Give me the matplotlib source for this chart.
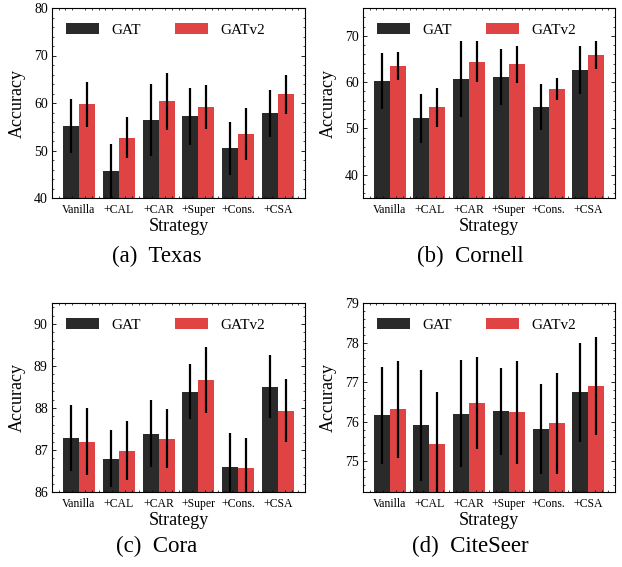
import numpy as np
import matplotlib
matplotlib.use("Agg")
import matplotlib.pyplot as plt
from matplotlib.ticker import AutoMinorLocator, MultipleLocator

plt.rcParams['font.family'] = ['Liberation Serif', 'DejaVu Serif']
plt.rcParams['mathtext.fontset'] = 'stix'

strategies = ["Vanilla", "+CAL", "+CAR", "+Super", "+Cons.", "+CSA"]
models = ["GAT", "GATv2"]

texas_gat = [55.1, 45.6, 56.4, 57.25, 50.5, 57.8]
texas_gat_err = [5.7, 5.7, 7.5, 6.0, 5.6, 4.9]
texas_gatv2 = [59.7, 52.7, 60.4, 59.15, 53.45, 61.8]
texas_gatv2_err = [4.8, 4.3, 6.0, 4.7, 5.5, 4.2]

cornell_gat = [60.25, 52.25, 60.7, 61.1, 54.6, 62.65]
cornell_gat_err = [6.0, 5.3, 8.2, 6.1, 5.0, 5.2]
cornell_gatv2 = [63.5, 54.6, 64.4, 63.9, 58.5, 65.9]
cornell_gatv2_err = [3.1, 4.2, 4.4, 4.0, 2.45, 3.0]

cora_gat = [87.29, 86.79, 87.39, 88.39, 86.60, 88.51]
cora_gat_err = [0.79, 0.68, 0.80, 0.65, 0.80, 0.75]
cora_gatv2 = [87.20, 86.98, 87.27, 88.67, 86.56, 87.94]
cora_gatv2_err = [0.79, 0.70, 0.70, 0.79, 0.72, 0.74]

citeseer_gat = [76.16, 75.91, 76.20, 76.26, 75.81, 76.74]
citeseer_gat_err = [1.22, 1.40, 1.35, 1.10, 1.14, 1.26]
citeseer_gatv2 = [76.31, 75.43, 76.48, 76.24, 75.96, 76.89]
citeseer_gatv2_err = [1.22, 1.32, 1.16, 1.30, 1.28, 1.24]

panels = [
    ("(a)  Texas", texas_gat, texas_gat_err, texas_gatv2, texas_gatv2_err, (40, 80), 10),
    ("(b)  Cornell", cornell_gat, cornell_gat_err, cornell_gatv2, cornell_gatv2_err, (35, 76), 10),
    ("(c)  Cora", cora_gat, cora_gat_err, cora_gatv2, cora_gatv2_err, (86, 90.5), 1),
    ("(d)  CiteSeer", citeseer_gat, citeseer_gat_err, citeseer_gatv2, citeseer_gatv2_err, (74.22, 79), 1),
]

W, H = 622, 567
fig = plt.figure(figsize=(W / 100, H / 100), dpi=100)

# axes boxes in pixels: left, top, right, bottom
boxes = [(52, 8, 305, 198), (363, 8, 615, 198), (52, 303, 305, 492), (363, 303, 615, 492)]
caption_pos = [(157, 256), (470, 256), (157, 546), (470, 546)]

c_gat = "#2a2a2a"
c_gatv2 = "#e04343"
bw = 0.4

for (title, g, ge, g2, g2e, ylim, major), (l, t, r, b), (cx, cy) in zip(panels, boxes, caption_pos):
    ax = fig.add_axes([l / W, 1 - b / H, (r - l) / W, (b - t) / H])
    x = np.arange(len(strategies))
    ekw = dict(elinewidth=1.6, ecolor="black", capsize=0, capthick=0)
    ax.bar(x - bw / 2, g, bw, yerr=ge, color=c_gat, label=models[0], error_kw=ekw)
    ax.bar(x + bw / 2, g2, bw, yerr=g2e, color=c_gatv2, label=models[1], error_kw=ekw)
    ax.set_xlim(-0.67, 5.67)
    ax.set_ylim(*ylim)
    ax.set_xticks(x)
    ax.set_xticklabels(strategies, fontsize=8.5)
    ax.yaxis.set_major_locator(MultipleLocator(major))
    ax.yaxis.set_minor_locator(AutoMinorLocator(5))
    ax.xaxis.set_minor_locator(MultipleLocator(1 / 6))
    ax.tick_params(axis="y", which="both", direction="in", left=True, right=True, labelsize=10, pad=3)
    ax.tick_params(axis="y", which="major", length=3.2, width=0.6)
    ax.tick_params(axis="y", which="minor", length=1.6, width=0.5)
    ax.tick_params(axis="x", which="major", bottom=False, top=False, pad=0.8)
    ax.tick_params(axis="x", which="minor", bottom=True, top=True, direction="in", length=1.6, width=0.5)
    for sp in ax.spines.values():
        sp.set_linewidth(0.8)
    ax.set_xlabel("Strategy", fontsize=13)
    ax.set_ylabel("Accuracy", fontsize=13)
    ax.xaxis.set_label_coords(0.5, -0.105)
    ax.yaxis.set_label_coords(-0.105, 0.5)
    ax.legend(loc="upper left", bbox_to_anchor=(14 / (r - l), 1 - 15 / (b - t)), ncol=2, frameon=False,
              fontsize=11, handlelength=2.15, handleheight=0.78, handletextpad=0.85,
              columnspacing=2.2, borderaxespad=0, borderpad=0)
    fig.text(cx / W, 1 - cy / H, title, ha="center", va="center", fontsize=16.5)

fig.savefig("out.png", dpi=100)
